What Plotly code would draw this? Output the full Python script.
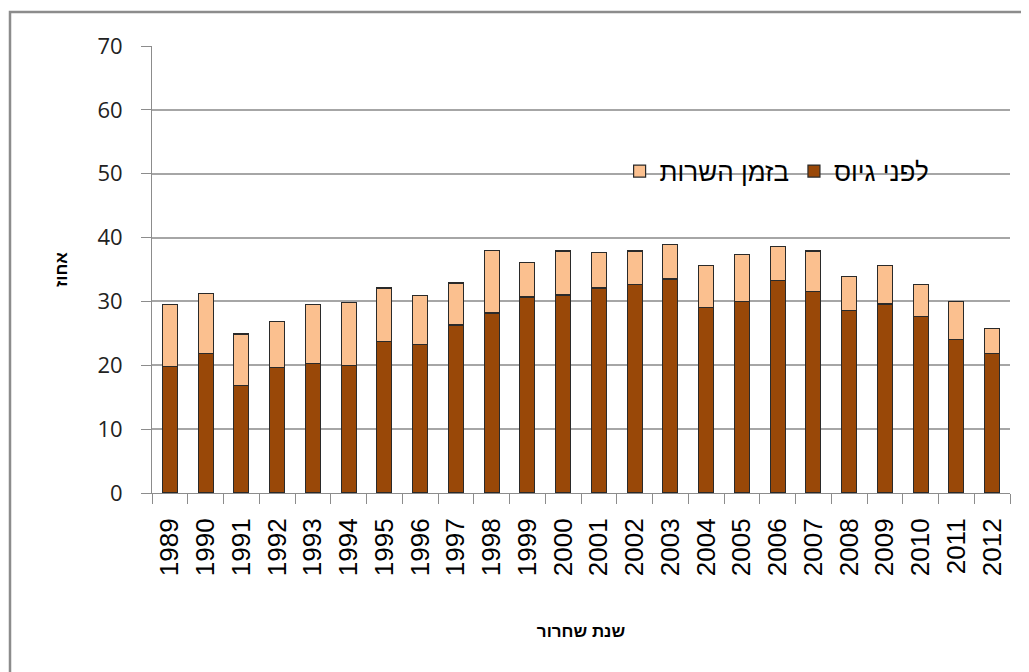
import plotly.graph_objects as go

years = [str(y) for y in range(1989, 2013)]
before_enlist = [19.8, 21.9, 16.8, 19.6, 20.3, 20.0, 23.7, 23.3, 26.3, 28.2, 30.7, 31.0,
                 32.1, 32.6, 33.5, 29.1, 30.0, 33.3, 31.5, 28.6, 29.6, 27.7, 24.0, 21.9]
during_service = [9.7, 9.3, 8.1, 7.2, 9.2, 9.8, 8.4, 7.6, 6.6, 9.8, 5.4, 6.9,
                  5.6, 5.3, 5.4, 6.5, 7.3, 5.3, 6.4, 5.3, 6.0, 4.9, 6.0, 3.9]
name_before = "לפני גיוס"
name_during = "בזמן השרות"
y_ticks = [0, 10, 20, 30, 40, 50, 60, 70]

fig = go.Figure()
fig.add_trace(go.Bar(x=years, y=before_enlist, name=name_before,
                     marker=dict(color="#994808", line=dict(color="#2a2a2a", width=1.2))))
fig.add_trace(go.Bar(x=years, y=during_service, name=name_during,
                     marker=dict(color="#FBC08F", line=dict(color="#2a2a2a", width=1.2))))

fig.update_layout(
    width=1021, height=664,
    margin=dict(l=144, r=19, t=38, b=179),
    barmode="stack", bargap=0.58,
    paper_bgcolor="white", plot_bgcolor="white",
    font=dict(family="Liberation Sans, DejaVu Sans, Arial", color="black"),
    showlegend=True,
    legend=dict(orientation="h", traceorder="reversed", x=0.545, xanchor="left",
                y=0.72, yanchor="middle", bgcolor="rgba(0,0,0,0)",
                font=dict(size=26, family="Liberation Sans, DejaVu Sans"),
                itemwidth=30),
    xaxis=dict(
        type="category", showgrid=False, showline=True, linecolor="#8c8c8c", linewidth=1,
        ticks="outside", tickson="boundaries", ticklen=10, tickcolor="#8c8c8c",
        tickangle=-90, tickfont=dict(size=26, family="Liberation Sans, Arial", color="black"),
        ticklabelstandoff=14,
        title=dict(text="שנת שחרור", font=dict(size=17, family="Liberation Sans, DejaVu Sans",
                                               weight="bold"), standoff=49),
    ),
    yaxis=dict(
        range=[0, 70], tickvals=y_ticks, showgrid=True, gridcolor="#a6a6a6", gridwidth=1.5,
        showline=True, linecolor="#8c8c8c", linewidth=1,
        ticks="outside", ticklen=10, tickcolor="#8c8c8c",
        tickfont=dict(size=22, family="Open Sans, DejaVu Sans", color="#222222"),
        ticklabelstandoff=14, zeroline=False,
        title=dict(text="אחוז", font=dict(size=17, family="Liberation Sans, DejaVu Sans",
                                          weight="bold"), standoff=25),
    ),
    shapes=[dict(type="rect", xref="paper", yref="paper",
                 x0=-0.1655, x1=1.06, y0=-0.5, y1=1.076,
                 line=dict(color="#8c8c8c", width=2.5), fillcolor="rgba(0,0,0,0)", layer="below")],
)

fig.write_html("out.html")
